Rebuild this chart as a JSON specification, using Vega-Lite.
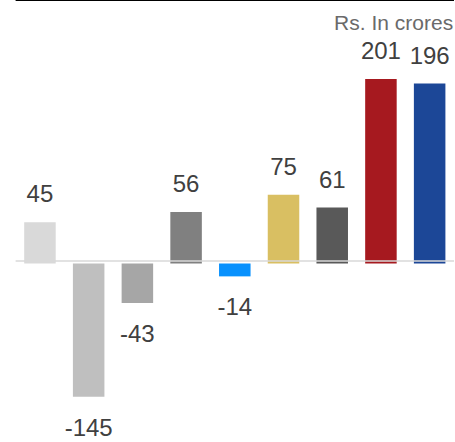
{
  "$schema": "https://vega.github.io/schema/vega-lite/v6.json",
  "autosize": "none",
  "padding": {"left": 15.6, "right": 1, "top": 0, "bottom": 0},
  "width": 438.4,
  "height": 442,
  "background": "white",
  "config": {"view": {"stroke": null}, "font": "Liberation Sans"},
  "data": {
    "values": [
      {"k": "A", "v": 45, "c": "#d9d9d9"},
      {"k": "B", "v": -145, "c": "#bfbfbf"},
      {"k": "C", "v": -43, "c": "#a6a6a6"},
      {"k": "D", "v": 56, "c": "#808080"},
      {"k": "E", "v": -14, "c": "#0891fd"},
      {"k": "F", "v": 75, "c": "#d9bf62"},
      {"k": "G", "v": 61, "c": "#595959"},
      {"k": "H", "v": 201, "c": "#a6191f"},
      {"k": "I", "v": 196, "c": "#1c4797"}
    ]
  },
  "encoding": {
    "x": {"field": "k", "type": "nominal", "axis": null, "sort": null,
          "scale": {"paddingInner": 0.353, "paddingOuter": 0.1765}},
    "y": {"field": "v", "type": "quantitative", "axis": null,
          "scale": {"domain": [-194.4, 287], "nice": false, "zero": false}}
  },
  "layer": [
    {"mark": {"type": "bar"}, "encoding": {"color": {"field": "c", "type": "nominal", "scale": null}}},
    {"data": {"values": [{"z": 0}]},
     "mark": {"type": "rule", "color": "#d9d9d9", "strokeWidth": 1.5, "yOffset": -2.5},
     "encoding": {"x": null, "y": {"field": "z", "type": "quantitative"}}},
    {"data": {"values": [{"top": 287}]},
     "mark": {"type": "rule", "color": "#000000", "strokeWidth": 2},
     "encoding": {"x": null, "y": {"field": "top", "type": "quantitative"}}},
    {"transform": [{"filter": "datum.v >= 0"}],
     "mark": {"type": "text", "fontSize": 24, "fontWeight": "normal", "color": "#404040", "baseline": "alphabetic", "dy": -20},
     "encoding": {"text": {"field": "v", "type": "nominal"}}},
    {"transform": [{"filter": "datum.v < 0"}],
     "mark": {"type": "text", "fontSize": 24, "fontWeight": "normal", "color": "#404040", "baseline": "alphabetic", "dy": 39},
     "encoding": {"text": {"field": "v", "type": "nominal"}}},
    {"data": {"values": [{"k": "I", "v": 254.5, "t": "Rs. In crores"}]},
     "mark": {"type": "text", "fontSize": 21, "fontWeight": "normal", "color": "#6a6a6a", "align": "right", "baseline": "alphabetic", "dx": 23.5},
     "encoding": {"text": {"field": "t", "type": "nominal"}}}
  ]
}
